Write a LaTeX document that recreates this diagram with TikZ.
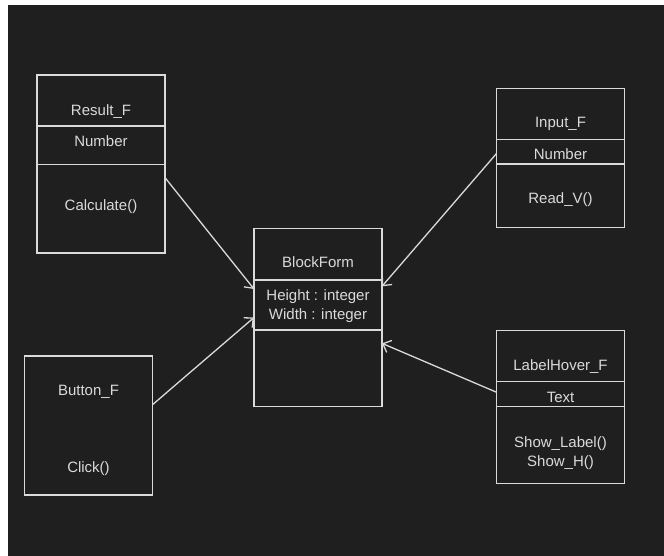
\documentclass[tikz,border=0pt]{standalone}
\usepackage{fontspec}
\setmainfont{Liberation Sans}
\usepackage{tikz}
\usetikzlibrary{arrows.meta}
\definecolor{bgdark}{HTML}{1F1F1F}
\definecolor{fg}{HTML}{DADADA}

\begin{document}
\begin{tikzpicture}[x=1pt,y=-1pt,
    cls/.style={draw=fg, line width=1.3pt, minimum width=128pt, outer sep=0pt, inner sep=0pt},
    txt/.style={text=fg, anchor=base, inner sep=0pt, font=\fontsize{15}{18}\selectfont},
    assoc/.style={draw=fg, line width=1.3pt, -{Straight Barb[length=7pt,width=13pt,line width=1.3pt]}}]
    \useasboundingbox (0,0) rectangle (664,556);
    \fill[white] (0,0) rectangle (664,556);
    \fill[bgdark] (8,5) rectangle (664,556);
    \node[cls, minimum height=178pt] (res) at (101,164) {};
    \node[cls, minimum height=139pt] (inp) at (560.5,158) {};
    \node[cls, minimum height=178pt] (bf) at (318,317.5) {};
    \node[cls, minimum height=139pt] (btn) at (88.5,425.5) {};
    \node[cls, minimum height=153pt] (lh) at (560.5,407) {};
    \draw[fg, line width=1.3pt] (res.west |- 0,126) -- (res.east |- 0,126);
    \draw[fg, line width=1.3pt] (res.west |- 0,164.7) -- (res.east |- 0,164.7);
    \draw[fg, line width=1.3pt] (inp.west |- 0,139.3) -- (inp.east |- 0,139.3);
    \draw[fg, line width=1.3pt] (inp.west |- 0,164) -- (inp.east |- 0,164);
    \draw[fg, line width=1.3pt] (bf.west |- 0,280) -- (bf.east |- 0,280);
    \draw[fg, line width=1.3pt] (bf.west |- 0,330) -- (bf.east |- 0,330);
    \draw[fg, line width=1.3pt] (lh.west |- 0,381.3) -- (lh.east |- 0,381.3);
    \draw[fg, line width=1.3pt] (lh.west |- 0,406.7) -- (lh.east |- 0,406.7);
    \node[txt] (resname) at (101,116) {Result\_F};
    \node[txt] (resattr) at (101,147) {Number};
    \node[txt] (resop) at (101,211) {Calculate()};
    \node[txt] (inpname) at (560.5,128) {Input\_F};
    \node[txt] (inpattr) at (560.5,160) {Number};
    \node[txt] (inpop) at (560.5,204) {Read\_V()};
    \node[txt] (bfname) at (318,268) {BlockForm};
    \node[txt] (bfattra) at (318,300) {Height : integer};
    \node[txt] (bfattrb) at (318,319) {Width : integer};
    \node[txt] (btnname) at (88.5,395) {Button\_F};
    \node[txt] (btnop) at (88.5,472) {Click()};
    \node[txt] (lhname) at (560.5,370) {LabelHover\_F};
    \node[txt] (lhattr) at (560.5,402) {Text};
    \node[txt] (lhopa) at (560.5,447) {Show\_Label()};
    \node[txt] (lhopb) at (560.5,466) {Show\_H()};
    \draw[assoc] (res.-12) -- (bf.156);
    \draw[assoc] (btn.18) -- (bf.west);
    \draw[assoc] (inp.176) -- (bf.26);
    \draw[assoc] (lh.167) -- (bf.-22);
\end{tikzpicture}
\end{document}
